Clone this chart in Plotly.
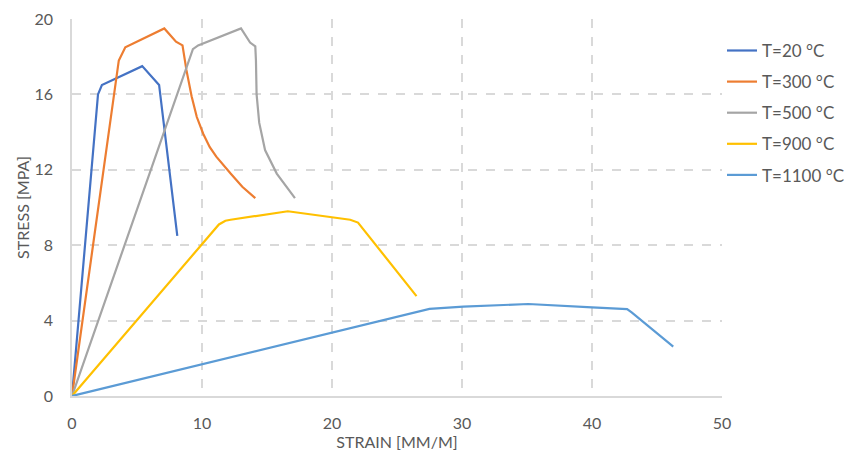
import plotly.graph_objects as go

# Data (strain in mm/m, stress in MPa)
t20_x = [0, 2.0, 2.3, 5.4, 6.7, 8.1]
t20_y = [0, 16.0, 16.5, 17.5, 16.5, 8.5]

t300_x = [0, 3.6, 4.1, 7.1, 8.0, 8.5, 8.8, 9.2, 9.6, 10.1, 10.6, 11.1, 12.2, 13.1, 14.1]
t300_y = [0, 17.8, 18.5, 19.5, 18.8, 18.6, 17.3, 15.9, 14.8, 13.9, 13.2, 12.7, 11.8, 11.1, 10.5]

t500_x = [0, 9.3, 9.7, 13.0, 13.7, 14.1, 14.15, 14.2, 14.4, 14.85, 15.75, 17.15]
t500_y = [0, 18.4, 18.6, 19.5, 18.75, 18.55, 17.8, 16.0, 14.5, 13.05, 11.8, 10.5]

t900_x = [0, 11.3, 11.8, 12.2, 16.6, 21.4, 22.0, 26.5]
t900_y = [0, 9.1, 9.3, 9.35, 9.8, 9.35, 9.2, 5.3]

t1100_x = [0, 27.0, 27.5, 30.1, 35.1, 40.0, 42.7, 43.05, 46.25]
t1100_y = [0, 4.55, 4.62, 4.74, 4.88, 4.7, 4.61, 4.43, 2.62]

series_names = ["T=20 °C", "T=300 °C", "T=500 °C", "T=900 °C", "T=1100 °C"]
series_x = [t20_x, t300_x, t500_x, t900_x, t1100_x]
series_y = [t20_y, t300_y, t500_y, t900_y, t1100_y]
colors = ["#4472C4", "#ED7D31", "#A5A5A5", "#FFC000", "#5B9BD5"]

x_ticks = [0, 10, 20, 30, 40, 50]
y_ticks = [0, 4, 8, 12, 16, 20]

FONT = "Lato, 'Open Sans', sans-serif"

fig = go.Figure()
for i, (name, xs, ys, c) in enumerate(zip(series_names, series_x, series_y, colors)):
    fig.add_trace(go.Scatter(x=xs, y=ys, mode="lines", name=name,
                             legendgroup=f"g{i}",
                             line=dict(color=c, width=2.2)))

fig.update_layout(
    width=844, height=457,
    margin=dict(l=72, r=122, t=19, b=61, autoexpand=False),
    paper_bgcolor="white", plot_bgcolor="white",
    font=dict(family=FONT, color="#595959", size=15),
    legend=dict(x=1.0, y=0.963, xanchor="left", yanchor="top",
                font=dict(size=17, color="#595959"),
                bgcolor="rgba(0,0,0,0)", itemwidth=30, tracegroupgap=6),
    showlegend=True,
)
fig.update_xaxes(
    range=[0, 50], tickvals=x_ticks, showgrid=True, gridcolor="#D9D9D9",
    griddash="dash", gridwidth=1.5, zeroline=False, showline=True,
    linecolor="#D9D9D9", linewidth=1.5, ticks="", ticklabelstandoff=12,
    tickfont=dict(size=16, color="#595959"),
    automargin=False,
    title=dict(text="STRAIN [MM/M]", font=dict(size=16, color="#595959"), standoff=0),
)
fig.update_yaxes(
    range=[0, 20], tickvals=y_ticks, showgrid=True, gridcolor="#D9D9D9",
    griddash="dash", gridwidth=1.5, zeroline=False, showline=True,
    linecolor="#D9D9D9", linewidth=1.5, ticks="", ticklabelstandoff=14,
    tickfont=dict(size=16, color="#595959"),
    automargin=False,
    title=dict(text="STRESS [MPA]", font=dict(size=16, color="#595959"), standoff=1),
)

fig.write_html(
    "out.html",
    config={"displayModeBar": False},
    post_script="document.body.style.margin='0';document.body.style.overflow='hidden';",
)
